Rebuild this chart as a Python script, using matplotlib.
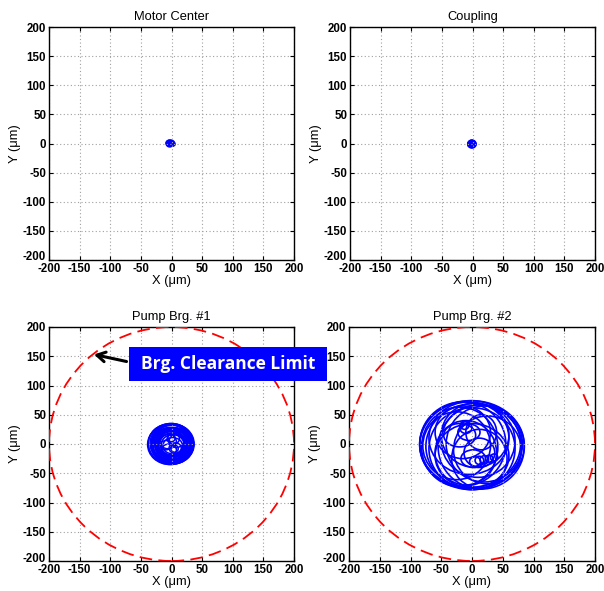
import matplotlib
matplotlib.use("Agg")
import matplotlib.pyplot as plt
from matplotlib.patches import Ellipse, Circle, Rectangle
from matplotlib.transforms import ScaledTranslation

plt.rcParams['font.family'] = ['Liberation Sans', 'DejaVu Sans']
plt.rcParams['axes.unicode_minus'] = False

titles = ["Motor Center", "Coupling", "Pump Brg. #1", "Pump Brg. #2"]
ticks = [-200, -150, -100, -50, 0, 50, 100, 150, 200]
clearance_radius = 200
show_clearance = [False, False, True, True]

# Orbit loops: centre x, centre y, half-width, half-height (µm)
motor_cx = [-2, -1, 0, -2, 1, -3]
motor_cy = [0, 0, 0, 1, -1, 0]
motor_rx = [5, 4, 3, 6, 4, 5]
motor_ry = [4, 4, 3, 4, 3, 5]

coup_cx = [-1, -1, 0, -2, -1, 0, -1, -1]
coup_cy = [-1, 0, -1, -1, -2, 0, -1, -1]
coup_rx = [6, 5, 4, 5, 3, 2, 6, 1]
coup_ry = [6, 5, 4, 4, 3, 2, 5, 1]

brg1_cx = [-1, 0, 2, -1, 1, -3, 3, 0, -2, 2, 0, 1, -1, 4, -4, 0, -2, 1,
           -3, 2, 1, -1, 3, -2, 0, 2,
           0, 5, -9, 3, 6, -6, 2, -4, 8]
brg1_cy = [0, 1, -1, 2, -2, 0, 1, -1, -2, 2, 0, 1, -1, -1, 1, -2, 3, 0,
           -1, 0, 2, -3, 1, 2, -1, -2,
           10, -8, -2, 9, -7, 4, -3, -10, 5]
brg1_rx = [37, 35, 34, 32, 31, 29, 28, 27, 25, 24, 22, 33, 30, 26, 34, 21, 23, 20,
           36, 35, 32, 30, 28, 26, 24, 19,
           6, 6, 9, 10, 10, 14, 16, 12, 12]
brg1_ry = [35, 34, 33, 31, 30, 28, 27, 26, 25, 23, 21, 32, 29, 25, 33, 20, 22, 19,
           34, 34, 31, 29, 27, 25, 23, 18,
           6, 6, 8, 9, 9, 12, 14, 10, 11]

brg2_cx = [0, -3, 3, -15, 15, -20, 20, 0, -5, 10, -25, 25, 0, 5, -10, 12, -15,
           -20, 12, 15, -5, 2,
           -12, -10, 12, 20, 28, 36, 5]
brg2_cy = [-2, 0, -4, 0, -5, -5, 0, -8, 10, 5, -3, -10, -20, 15, -15, -25, 20,
           15, -15, 20, 20, -25,
           32, 28, -28, -27, -25, -23, -30]
brg2_rx = [85, 82, 78, 70, 70, 62, 62, 70, 65, 60, 55, 55, 60, 55, 50, 45, 45,
           26, 25, 25, 18, 20,
           7, 10, 7, 7, 6, 6, 9]
brg2_ry = [76, 74, 73, 72, 72, 68, 65, 70, 62, 62, 58, 58, 55, 55, 55, 50, 45,
           20, 25, 30, 14, 15,
           7, 10, 7, 7, 6, 6, 8]

orbits = [
    (motor_cx, motor_cy, motor_rx, motor_ry, 1.8),
    (coup_cx, coup_cy, coup_rx, coup_ry, 1.8),
    (brg1_cx, brg1_cy, brg1_rx, brg1_ry, 1.1),
    (brg2_cx, brg2_cy, brg2_rx, brg2_ry, 1.2),
]

W, H = 604, 591
fig = plt.figure(figsize=(W / 100, H / 100), dpi=100)

boxes_px = [(49, 27, 245, 233), (350, 27, 245, 233),
            (49, 327, 245, 234), (349, 327, 246, 234)]

axes = []
for i, (x0, y0, w, h) in enumerate(boxes_px):
    ax = fig.add_axes([x0 / W, 1 - (y0 + h) / H, w / W, h / H])
    axes.append(ax)
    ax.set_xlim(-200, 200)
    ax.set_ylim(-200, 200)
    ax.set_xticks(ticks)
    ax.set_yticks(ticks)
    ax.grid(True, linestyle=(0, (1, 2.2)), color='#a0a0a0', linewidth=0.8)
    ax.tick_params(direction='in', top=True, right=True, length=3,
                   labelsize=8.3, pad=2)
    ax.tick_params(axis='x', pad=2.5)
    for lab in ax.get_xticklabels() + ax.get_yticklabels():
        lab.set_fontweight('bold')
    ylabs = ax.get_yticklabels()
    ylabs[0].set_transform(ylabs[0].get_transform() +
                           ScaledTranslation(0, 4 / 100, fig.dpi_scale_trans))
    for s in ax.spines.values():
        s.set_linewidth(1.0)
    ax.set_title(titles[i], fontsize=9.3, pad=5)
    ax.set_xlabel("X (\u03bcm)", fontsize=9.3, labelpad=0)
    ax.set_ylabel("Y (\u03bcm)", fontsize=9.3, labelpad=1)
    cx, cy, rx, ry, lw = orbits[i]
    for a, b, c, d in zip(cx, cy, rx, ry):
        ax.add_patch(Ellipse((a, b), 2 * c, 2 * d, fill=False,
                             edgecolor='#0000ff', linewidth=lw))
    if show_clearance[i]:
        ax.add_patch(Circle((0, 0), clearance_radius, fill=False,
                            edgecolor='#ff0000', linestyle=(0, (7, 3.5)),
                            linewidth=1.3, zorder=3))

# Annotation arrow and label
axes[2].annotate("", xy=(-131, 154), xytext=(-69, 140),
                 arrowprops=dict(arrowstyle='->, head_width=0.35, head_length=0.6',
                                 color='black', lw=2.2))
bx0, by0, bw, bh = 129, 347, 198, 34
fig.patches.append(Rectangle((bx0 / W, 1 - (by0 + bh) / H), bw / W, bh / H,
                             transform=fig.transFigure, facecolor='#0000ff',
                             edgecolor='none', zorder=5))
fig.text((bx0 + bw / 2) / W, 1 - (by0 + bh / 2) / H, "Brg. Clearance Limit",
         color='white', fontsize=12.5, fontweight='bold', family='Open Sans',
         ha='center', va='center', zorder=6)

fig.savefig("out.png", dpi=100)
